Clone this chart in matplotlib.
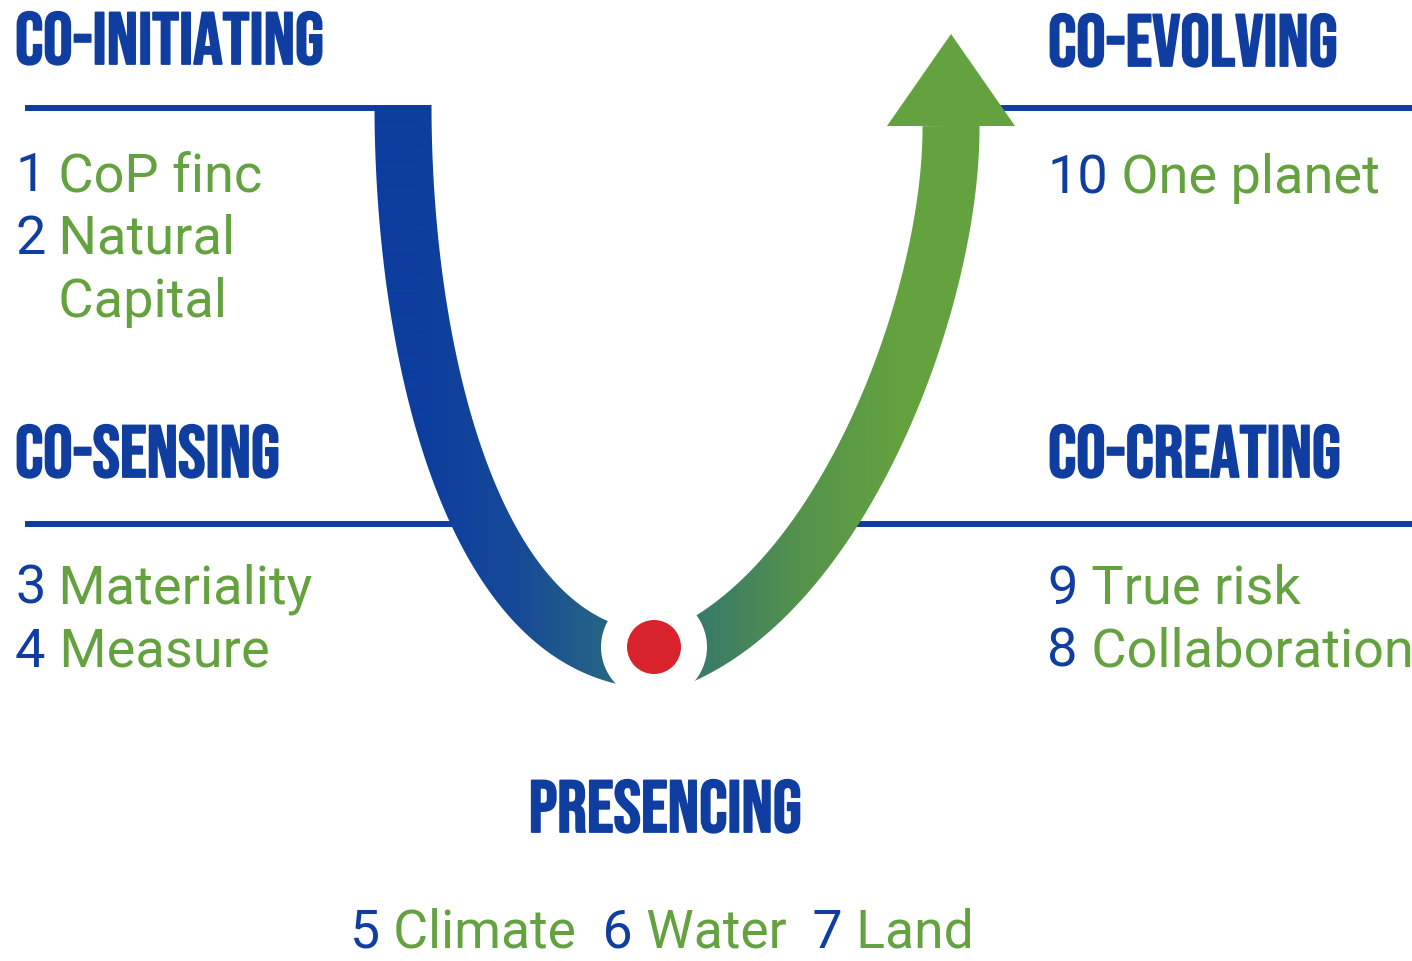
"""Theory U style diagram: stages, numbered topics and the U arrow."""

import matplotlib

matplotlib.use("Agg")
import matplotlib.patheffects as pe
import matplotlib.pyplot as plt
import numpy as np
from matplotlib.colors import LinearSegmentedColormap
from matplotlib.patches import Circle, PathPatch, Polygon
from matplotlib.path import Path

BLUE = "#0f3ea0"
GREEN = "#64a23f"
RED = "#d8232c"
HEAD_FONT = ["Bebas Neue", "Oswald", "DejaVu Sans"]
BODY_FONT = ["Roboto", "DejaVu Sans"]

# stage headings
HEADINGS = ["CO-INITIATING", "CO-SENSING", "PRESENCING", "CO-CREATING", "CO-EVOLVING"]
HEAD_X = [15, 15, 665, 1048, 1048]
HEAD_Y = [65, 478, 833, 478, 67]
HEAD_HA = ["left", "left", "center", "left", "left"]

# numbered topics (number, label); "" number = continuation line
INIT_ITEMS = [("1", "CoP finc"), ("2", "Natural"), ("", "Capital")]
SENSE_ITEMS = [("3", "Materiality"), ("4", "Measure")]
CREATE_ITEMS = [("9", "True risk"), ("8", "Collaboration")]
EVOLVE_ITEMS = [("10", "One planet")]
PRESENCE_ITEMS = [("5", "Climate"), ("6", "Water"), ("7", "Land")]

# the U: cubic bezier centerlines (pixel space)
LEFT_ARM = [(403, 106), (403, 350), (470, 640), (640, 660)]
RIGHT_ARM = [(668, 662), (842, 598), (952, 300), (951, 127)]
ARM_WIDTH = 57
ARROW_HEAD = [(887, 127), (1015, 127), (951, 35)]
DOT_XY = (654, 648)

W, H = 1412, 962
fig = plt.figure(figsize=(W / 100, H / 100), dpi=100)
ax = fig.add_axes([0, 0, 1, 1])
ax.set_xlim(0, W)
ax.set_ylim(H, 0)
ax.axis("off")


def arm_polygon(ctrl, width, n=240):
    p0, p1, p2, p3 = (np.array(p, dtype=float) for p in ctrl)
    t = np.linspace(0, 1, n)[:, None]
    pts = (1 - t) ** 3 * p0 + 3 * (1 - t) ** 2 * t * p1 + 3 * (1 - t) * t ** 2 * p2 + t ** 3 * p3
    d = 3 * (1 - t) ** 2 * (p1 - p0) + 6 * (1 - t) * t * (p2 - p1) + 3 * t ** 2 * (p3 - p2)
    d /= np.linalg.norm(d, axis=1, keepdims=True)
    nrm = np.column_stack([-d[:, 1], d[:, 0]])
    side_a = pts + nrm * width / 2
    side_b = pts - nrm * width / 2
    return np.vstack([side_a, side_b[::-1]])


# horizontal rules
rule_kw = dict(color=BLUE, linewidth=4.3, solid_capstyle="butt", zorder=1)
ax.plot([25, 420], [109, 109], **rule_kw)
ax.plot([25, 470], [525, 525], **rule_kw)
ax.plot([840, W], [525, 525], **rule_kw)
ax.plot([990, W], [109, 109], **rule_kw)

# U arms with blue -> green gradient
verts = [arm_polygon(LEFT_ARM, ARM_WIDTH), arm_polygon(RIGHT_ARM, ARM_WIDTH)]
u_path = Path.make_compound_path(*[Path(v, closed=False) for v in verts])
clip = PathPatch(u_path, facecolor="none", edgecolor="none", transform=ax.transData)
ax.add_patch(clip)
cmap = LinearSegmentedColormap.from_list(
    "u", [(0.0, "#0d3d9f"), (0.2, "#164a98"), (0.4, "#286783"),
          (0.6, "#3a7c66"), (0.8, "#55934c"), (1.0, GREEN)])
xs = np.linspace(360, 1000, 640)
grad = np.clip((xs - 420) / 480, 0, 1).reshape(1, -1)
img = ax.imshow(grad, extent=(360, 1000, 720, 90), cmap=cmap, vmin=0, vmax=1,
                aspect="auto", interpolation="bilinear", zorder=2)
img.set_clip_path(clip)
ax.add_patch(Polygon(ARROW_HEAD, closed=True, facecolor=GREEN, edgecolor="none", zorder=3))

# presencing point
ax.add_patch(Circle(DOT_XY, 53, facecolor="white", edgecolor="none", zorder=4))
ax.add_patch(Circle(DOT_XY, 27, facecolor=RED, edgecolor="none", zorder=5))

# headings (thin stroke to get the heavier look of the original)
bold = [pe.withStroke(linewidth=1.3, foreground=BLUE)]
for text, x, y, ha in zip(HEADINGS, HEAD_X, HEAD_Y, HEAD_HA):
    ax.text(x, y, text, family=HEAD_FONT, fontsize=53, color=BLUE,
            ha=ha, va="baseline", zorder=6, path_effects=bold)

renderer = fig.canvas.get_renderer()
body_kw = dict(family=BODY_FONT, fontsize=39, va="baseline", zorder=6)


def right_edge(artist):
    bb = artist.get_window_extent(renderer=renderer)
    return ax.transData.inverted().transform((bb.x1, bb.y0))[0]


def draw_block(items, x, y0, step=63):
    label_x = x
    for i, (num, label) in enumerate(items):
        y = y0 + i * step
        if num:
            t = ax.text(x, y, num, color=BLUE, **body_kw)
            label_x = right_edge(t)
        ax.text(label_x, y, " " + label, color=GREEN, **body_kw)


draw_block(INIT_ITEMS, 15, 191)
draw_block(SENSE_ITEMS, 15, 604)
draw_block(CREATE_ITEMS, 1047, 604)
draw_block(EVOLVE_ITEMS, 1047, 193)

# bottom row, items side by side
bottom_kw = dict(body_kw, fontsize=38.5)
x = 350
for i, (num, label) in enumerate(PRESENCE_ITEMS):
    t = ax.text(x, 948, ("  " if i else "") + num, color=BLUE, **bottom_kw)
    t = ax.text(right_edge(t), 948, " " + label, color=GREEN, **bottom_kw)
    x = right_edge(t)

fig.savefig("out.png", dpi=100, facecolor="white")
